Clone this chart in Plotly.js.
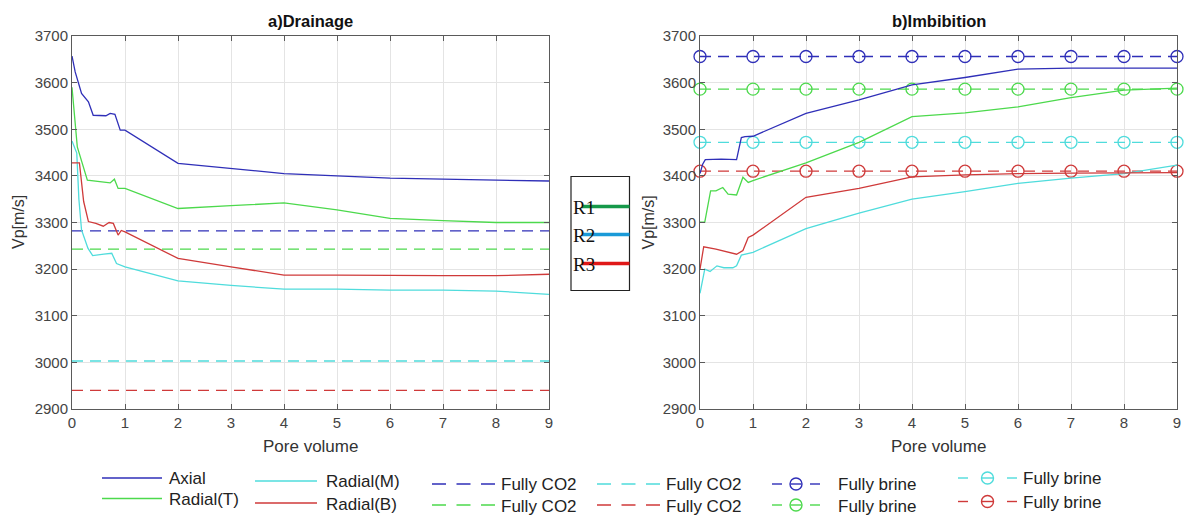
<!DOCTYPE html>
<html>
<head>
<meta charset="utf-8">
<script src="https://cdn.plot.ly/plotly-3.0.1.min.js"></script>
<style>
html,body{margin:0;padding:0;background:#fff;}
#chart{width:1184px;height:515px;}
</style>
</head>
<body>
<div id="chart"></div>
<script>
// ---------------- DATA ----------------
const seriesNames = ['Axial', 'Radial(T)', 'Radial(M)', 'Radial(B)'];
const seriesColors = ['#2f2fb8', '#4cd94c', '#4fdcdc', '#cf3a3a'];

// a) Drainage
const drainAxialX = [0, 0.06, 0.18, 0.31, 0.4, 0.53, 0.64, 0.72, 0.81, 0.91, 1, 2, 3, 4, 5, 6, 7, 8, 9];
const drainAxialY = [3657, 3623, 3577, 3559, 3530, 3530, 3529, 3534, 3532, 3498, 3498, 3427, 3416, 3405, 3400, 3395, 3393, 3391, 3389];
const drainRadTX = [0, 0.05, 0.1, 0.29, 0.5, 0.72, 0.8, 0.87, 1, 2, 3, 4, 5, 6, 7, 8, 9];
const drainRadTY = [3590, 3520, 3462, 3391, 3388, 3385, 3393, 3373, 3373, 3330, 3336, 3342, 3327, 3309, 3304, 3300, 3300];
const drainRadMX = [0, 0.09, 0.13, 0.18, 0.3, 0.39, 0.6, 0.75, 0.84, 0.96, 1, 2, 3, 4, 5, 6, 7, 8, 9];
const drainRadMY = [3475, 3449, 3350, 3284, 3245, 3229, 3232, 3234, 3212, 3208, 3205, 3175, 3165, 3157, 3157, 3155, 3155, 3153, 3146];
const drainRadBX = [0, 0.14, 0.22, 0.31, 0.45, 0.59, 0.7, 0.78, 0.87, 0.93, 1, 2, 3, 4, 5, 6, 7, 8, 9];
const drainRadBY = [3428, 3428, 3345, 3302, 3298, 3292, 3300, 3298, 3273, 3283, 3280, 3223, 3205, 3187, 3187, 3186, 3186, 3186, 3189];
const drainCO2 = [3282, 3243, 3003, 2940];       // Fully CO2 levels (Axial, T, M, B)
const drainCO2X = [0, 9];

// b) Imbibition
const imbAxialX = [0, 0.05, 0.1, 0.4, 0.69, 0.78, 0.85, 1, 2, 3, 4, 5, 6, 7, 8, 9];
const imbAxialY = [3405, 3425, 3435, 3436, 3435, 3482, 3484, 3485, 3534, 3563, 3595, 3611, 3629, 3631, 3631, 3631];
const imbRadTX = [0, 0.09, 0.2, 0.3, 0.43, 0.53, 0.69, 0.81, 0.91, 1, 2, 3, 4, 5, 6, 7, 8, 9];
const imbRadTY = [3301, 3301, 3368, 3368, 3375, 3361, 3359, 3397, 3386, 3390, 3428, 3472, 3527, 3535, 3548, 3568, 3584, 3588];
const imbRadMX = [0, 0.09, 0.19, 0.32, 0.45, 0.62, 0.69, 0.78, 1, 2, 3, 4, 5, 6, 7, 8, 9];
const imbRadMY = [3148, 3200, 3195, 3207, 3203, 3203, 3207, 3230, 3236, 3287, 3320, 3350, 3366, 3384, 3395, 3405, 3423];
const imbRadBX = [0, 0.07, 0.3, 0.69, 0.81, 0.91, 1, 2, 3, 4, 5, 6, 7, 8, 9];
const imbRadBY = [3200, 3248, 3243, 3232, 3240, 3268, 3273, 3354, 3373, 3398, 3402, 3405, 3406, 3407, 3407];
const imbBrine = [3656, 3586, 3472, 3410];      // Fully brine levels (Axial, T, M, B)
const imbBrineX = [0, 1, 2, 3, 4, 5, 6, 7, 8, 9];

const panelTitles = ['a)Drainage', 'b)Imbibition'];
const xTitle = 'Pore volume';
const yTitle = 'Vp[m/s]';
const yTicks = [2900, 3000, 3100, 3200, 3300, 3400, 3500, 3600, 3700];
const xTicks = [0, 1, 2, 3, 4, 5, 6, 7, 8, 9];

const regionLabels = ['R1', 'R2', 'R3'];
const regionColors = ['#16994a', '#1a9ad8', '#e01818'];

// legend: column-major order as in the figure
const legendLabels = ['Axial', 'Radial(T)', 'Radial(M)', 'Radial(B)',
  'Fully CO2', 'Fully CO2', 'Fully CO2', 'Fully CO2',
  'Fully brine', 'Fully brine', 'Fully brine', 'Fully brine'];
const legendColorIdx = [0, 1, 2, 3, 0, 1, 2, 3, 0, 1, 2, 3];
const legendKinds = ['solid', 'solid', 'solid', 'solid', 'dash', 'dash', 'dash', 'dash', 'brine', 'brine', 'brine', 'brine'];

// ---------------- LAYOUT HELPERS ----------------
const W = 1184, H = 515;
const L = 72, R = 7, T = 36, B = 106;
const PW = W - L - R, PH = H - T - B;
const px = v => (v - L) / PW;
const py = v => (H - B - v) / PH;
const FONT = 'Liberation Sans, Arial, sans-serif';
const DASH = '11px,7px';

const traces = [];
const drainX = [drainAxialX, drainRadTX, drainRadMX, drainRadBX];
const drainY = [drainAxialY, drainRadTY, drainRadMY, drainRadBY];
const imbX = [imbAxialX, imbRadTX, imbRadMX, imbRadBX];
const imbY = [imbAxialY, imbRadTY, imbRadMY, imbRadBY];

for (let i = 0; i < 4; i++) {
  traces.push({x: drainCO2X, y: [drainCO2[i], drainCO2[i]], xaxis: 'x', yaxis: 'y', mode: 'lines',
    line: {color: seriesColors[i], width: 1.3, dash: DASH}, name: 'Fully CO2', showlegend: false, hoverinfo: 'skip'});
}
for (let i = 0; i < 4; i++) {
  traces.push({x: drainX[i], y: drainY[i], xaxis: 'x', yaxis: 'y', mode: 'lines',
    line: {color: seriesColors[i], width: 1.3}, name: seriesNames[i], showlegend: false});
}
for (let i = 0; i < 4; i++) {
  traces.push({x: imbBrineX, y: imbBrineX.map(() => imbBrine[i]), xaxis: 'x2', yaxis: 'y2', mode: 'lines+markers',
    line: {color: seriesColors[i], width: 1.3, dash: DASH},
    marker: {symbol: 'circle-open', size: 12, color: seriesColors[i], line: {width: 1.3, color: seriesColors[i]}},
    name: 'Fully brine', showlegend: false, cliponaxis: false});
}
for (let i = 0; i < 4; i++) {
  traces.push({x: imbX[i], y: imbY[i], xaxis: 'x2', yaxis: 'y2', mode: 'lines',
    line: {color: seriesColors[i], width: 1.3}, name: seriesNames[i], showlegend: false});
}

function axisX(domain) {
  return {domain: domain, range: [0, 9], tickvals: xTicks, ticks: 'inside', ticklen: 5, tickcolor: '#5a5a5a',
    showline: true, linecolor: '#5a5a5a', linewidth: 1, mirror: 'ticks', showgrid: true, gridcolor: '#e4e4e4',
    zeroline: false, tickfont: {family: FONT, size: 15, color: '#444'}, fixedrange: true};
}
function axisY(anchor) {
  return {anchor: anchor, range: [2900, 3700], tickvals: yTicks, ticks: 'inside', ticklen: 5, tickcolor: '#5a5a5a',
    showline: true, linecolor: '#5a5a5a', linewidth: 1, mirror: 'ticks', showgrid: true, gridcolor: '#e4e4e4',
    zeroline: false, tickfont: {family: FONT, size: 15, color: '#444'}, fixedrange: true};
}

const xd1 = [0, px(549)], xd2 = [px(700), 1];
const annotations = [];
const shapes = [];

// panel titles, axis titles
const centers = [(72 + 549) / 2, (700 + 1177) / 2];
const yLabelX = [18.5, 648];
for (let k = 0; k < 2; k++) {
  annotations.push({text: '<b>' + panelTitles[k] + '</b>', xref: 'paper', yref: 'paper', x: px(centers[k]), y: py(21),
    xanchor: 'center', yanchor: 'middle', showarrow: false, font: {family: FONT, size: 16.5, color: '#111'}});
  annotations.push({text: xTitle, xref: 'paper', yref: 'paper', x: px(centers[k]), y: py(446),
    xanchor: 'center', yanchor: 'middle', showarrow: false, font: {family: FONT, size: 17, color: '#333'}});
  annotations.push({text: yTitle, xref: 'paper', yref: 'paper', x: px(yLabelX[k]), y: py(222.5), textangle: -90,
    xanchor: 'center', yanchor: 'middle', showarrow: false, font: {family: FONT, size: 16, color: '#333'}});
}

// R1/R2/R3 box
shapes.push({type: 'rect', xref: 'paper', yref: 'paper', x0: px(571), x1: px(629.5), y0: py(176.5), y1: py(290.5),
  line: {color: '#222', width: 1.2}, fillcolor: 'rgba(0,0,0,0)'});
const regY = [206.5, 234.5, 263.5];
for (let i = 0; i < 3; i++) {
  shapes.push({type: 'line', xref: 'paper', yref: 'paper', x0: px(582), x1: px(629.5), y0: py(regY[i]), y1: py(regY[i]),
    line: {color: regionColors[i], width: 3.5}});
  annotations.push({text: regionLabels[i], xref: 'paper', yref: 'paper', x: px(571), y: py(regY[i] + 1.2),
    xanchor: 'left', yanchor: 'middle', showarrow: false, font: {family: 'Liberation Serif, Times New Roman, serif', size: 19, color: '#111'}});
}

// legend (drawn manually, column-major)
const legLine0 = [102, 102, 255, 255, 432, 432, 597, 597, 772, 772, 958, 958];
const legLine1 = [162, 162, 317, 317, 495, 495, 660, 660, 820, 820, 1017, 1017];
const legTextX = [168, 168, 325, 325, 500, 500, 665, 665, 837, 837, 1022, 1022];
const legY = [478, 498.5, 481, 503, 484, 505, 484, 505, 484, 505, 478, 501.5];
for (let j = 0; j < legendLabels.length; j++) {
  const c = seriesColors[legendColorIdx[j]];
  const y = py(legY[j]);
  if (legendKinds[j] === 'solid') {
    shapes.push({type: 'line', xref: 'paper', yref: 'paper', x0: px(legLine0[j]), x1: px(legLine1[j]), y0: y, y1: y,
      line: {color: c, width: 1.4}});
  } else if (legendKinds[j] === 'dash') {
    shapes.push({type: 'line', xref: 'paper', yref: 'paper', x0: px(legLine0[j]), x1: px(legLine1[j]), y0: y, y1: y,
      line: {color: c, width: 1.4, dash: '14px,10.5px'}});
  } else {
    const a = legLine0[j], b = legLine1[j], m = (a + b) / 2;
    [[a, a + 10], [m - 5.5, m + 5.5], [b - 10, b]].forEach(s => {
      shapes.push({type: 'line', xref: 'paper', yref: 'paper', x0: px(s[0]), x1: px(s[1]), y0: y, y1: y,
        line: {color: c, width: 1.4}});
    });
    shapes.push({type: 'circle', xref: 'paper', yref: 'paper', xsizemode: 'pixel', ysizemode: 'pixel',
      xanchor: px(m), yanchor: y, x0: -6, x1: 6, y0: -6, y1: 6, line: {color: c, width: 1.4}, fillcolor: 'rgba(0,0,0,0)'});
  }
  annotations.push({text: legendLabels[j], xref: 'paper', yref: 'paper', x: px(legTextX[j]), y: py(legY[j] + 1),
    xanchor: 'left', yanchor: 'middle', showarrow: false, borderpad: 0, font: {family: FONT, size: 17, color: '#222'}});
}

const layout = {
  width: W, height: H,
  margin: {l: L, r: R, t: T, b: B, pad: 0},
  paper_bgcolor: '#fff', plot_bgcolor: '#fff',
  showlegend: false,
  font: {family: FONT},
  xaxis: Object.assign(axisX(xd1), {anchor: 'y'}),
  yaxis: axisY('x'),
  xaxis2: Object.assign(axisX(xd2), {anchor: 'y2'}),
  yaxis2: axisY('x2'),
  annotations: annotations,
  shapes: shapes
};

Plotly.newPlot('chart', traces, layout, {displayModeBar: false, staticPlot: true});
</script>
</body>
</html>
